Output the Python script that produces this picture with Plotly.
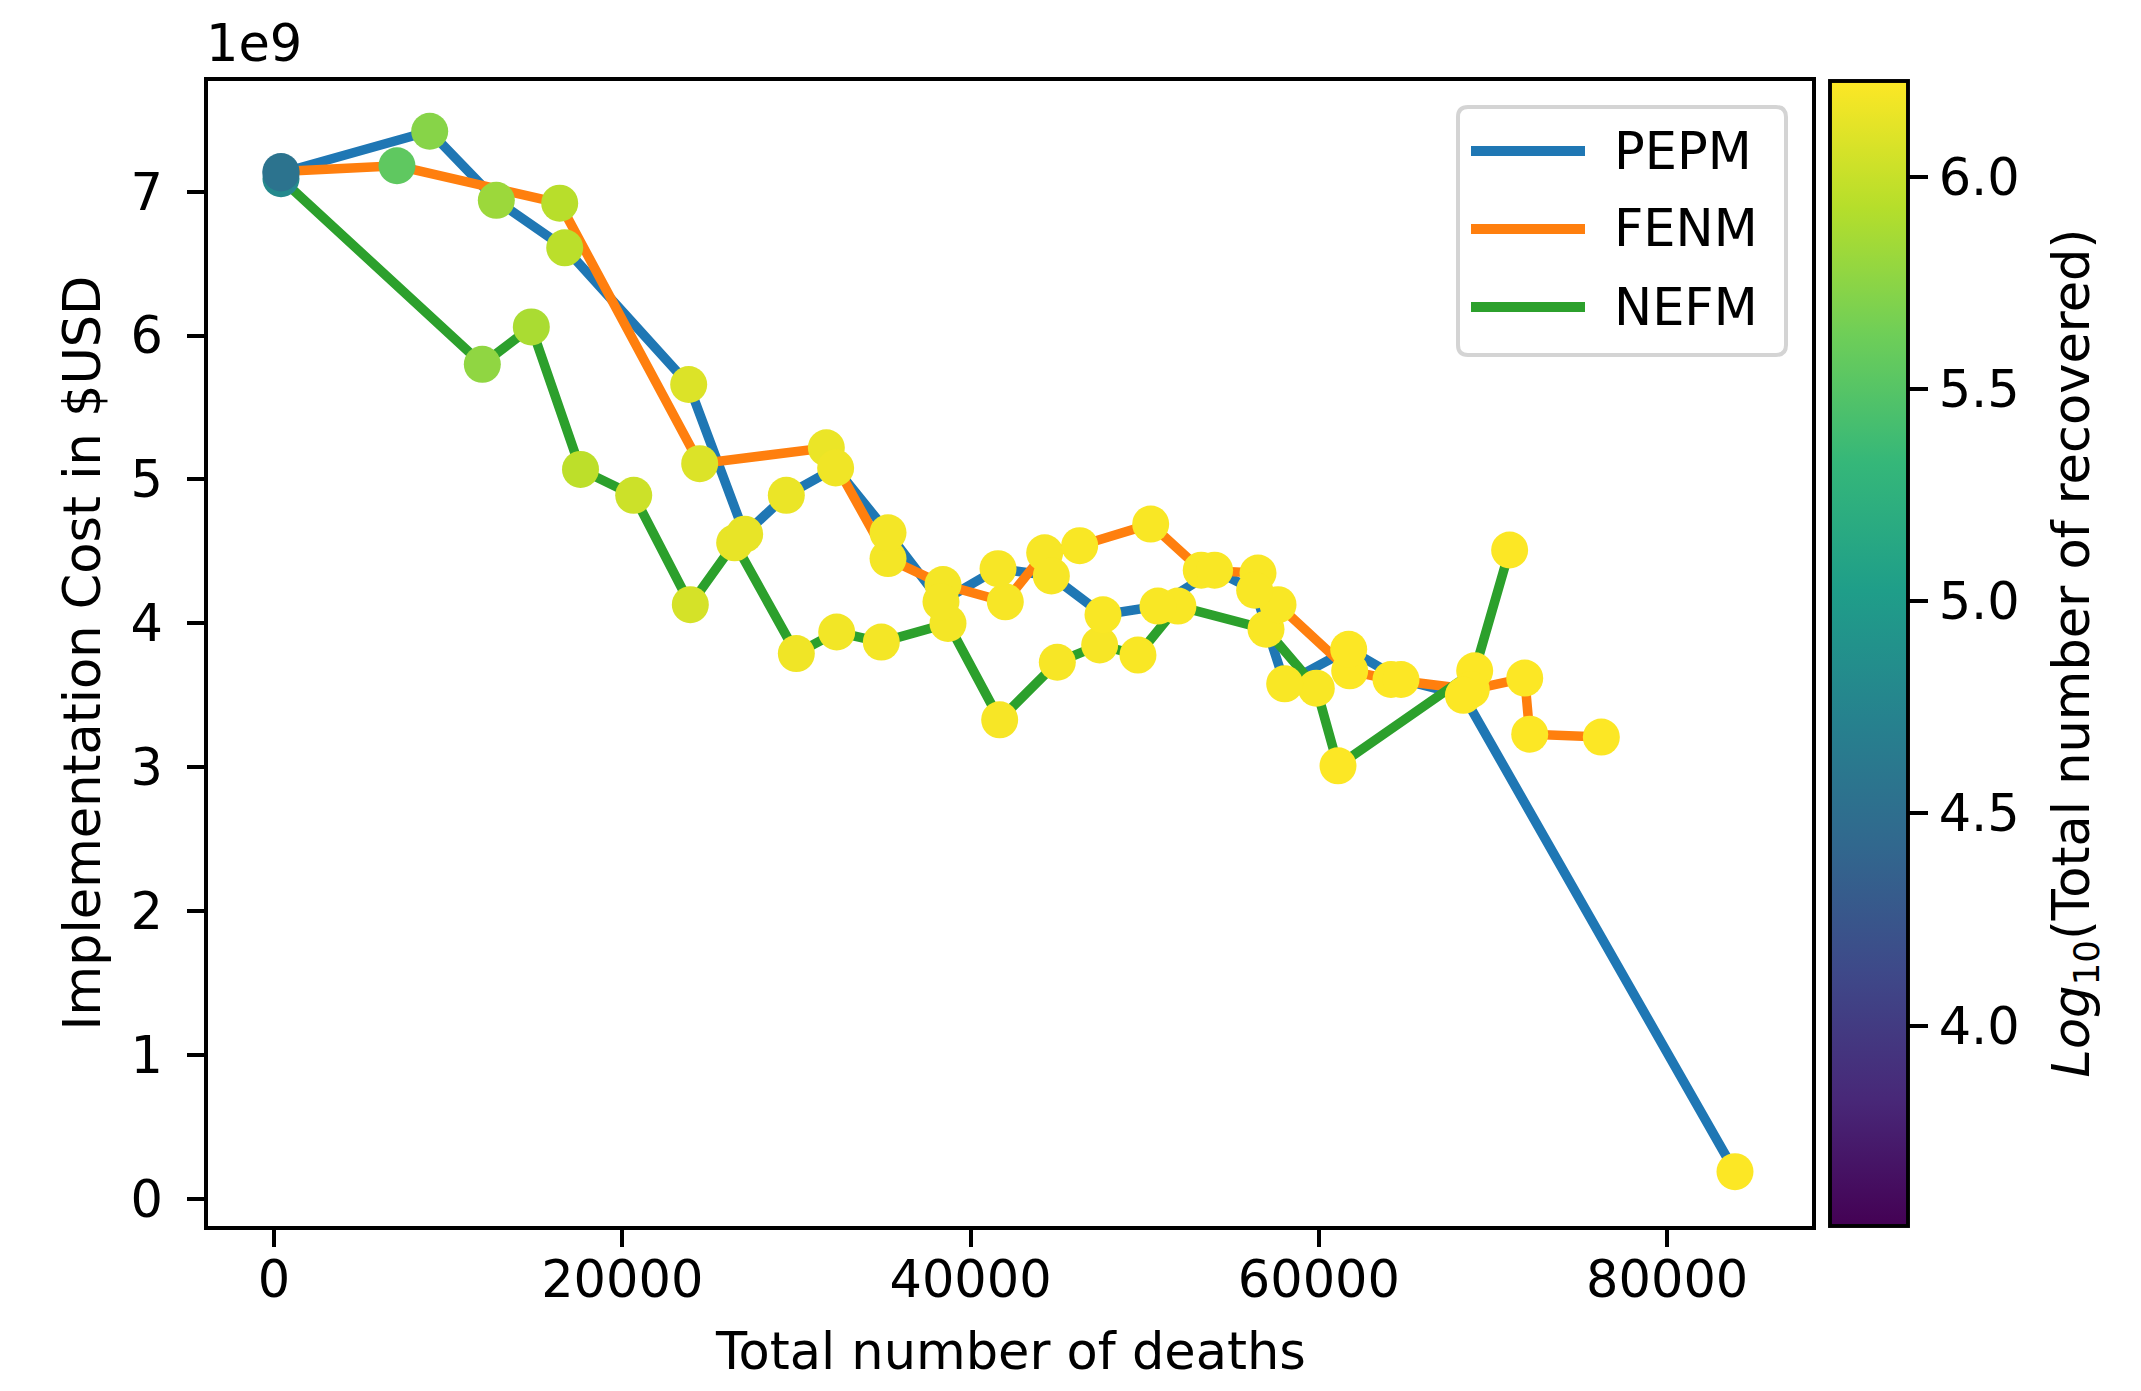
import plotly.graph_objects as go

# ---------------- data ----------------
series_names = ["PEPM", "FENM", "NEFM"]
line_colors = ["#1f77b4", "#ff7f0e", "#2ca02c"]

pepm_deaths = [400, 8940, 12766, 16693, 23812, 27026, 29418, 32250, 35258, 38300,
               41575, 44637, 47603, 50758, 54011, 56312, 58036, 61710, 64715, 68300, 83893]
pepm_cost_1e9 = [7.13, 7.42, 6.94, 6.61, 5.66, 4.62, 4.89, 5.08, 4.63, 4.15,
                 4.38, 4.33, 4.06, 4.12, 4.37, 4.23, 3.58, 3.82, 3.61, 3.50, 0.19]
pepm_log_recovered = [4.55, 5.73, 5.82, 5.95, 6.09, 6.14, 6.15, 6.17, 6.19, 6.19,
                      6.20, 6.20, 6.21, 6.21, 6.21, 6.21, 6.21, 6.22, 6.22, 6.22, 6.22]

fenm_deaths = [400, 7063, 16405, 24444, 31716, 35258, 38415, 41993, 44254, 46264,
               50340, 53245, 56504, 57652, 61768, 64140, 68750, 71819, 72106, 76218]
fenm_cost_1e9 = [7.14, 7.18, 6.92, 5.11, 5.22, 4.45, 4.27, 4.15, 4.49, 4.54,
                 4.69, 4.37, 4.35, 4.13, 3.67, 3.61, 3.54, 3.62, 3.23, 3.21]
fenm_log_recovered = [4.55, 5.55, 5.94, 6.09, 6.15, 6.19, 6.19, 6.20, 6.20, 6.21,
                      6.21, 6.21, 6.21, 6.21, 6.22, 6.22, 6.22, 6.22, 6.22, 6.22]

nefm_deaths = [400, 11962, 14775, 17600, 20655, 23906, 26452, 29993, 32312, 34874,
               38702, 41670, 44979, 47411, 49610, 51907, 56963, 59851, 61097, 68946, 70953]
nefm_cost_1e9 = [7.09, 5.80, 6.06, 5.07, 4.89, 4.13, 4.56, 3.79, 3.94, 3.87,
                 4.00, 3.33, 3.73, 3.85, 3.78, 4.12, 3.96, 3.55, 3.01, 3.67, 4.51]
nefm_log_recovered = [4.80, 5.77, 5.88, 5.96, 6.02, 6.06, 6.14, 6.17, 6.18, 6.19,
                      6.19, 6.20, 6.20, 6.20, 6.21, 6.21, 6.21, 6.21, 6.22, 6.22, 6.22]

x_tick_vals = [0, 20000, 40000, 60000, 80000]
x_tick_text = ["0", "20000", "40000", "60000", "80000"]
y_tick_vals_1e9 = [0, 1, 2, 3, 4, 5, 6, 7]
y_tick_text = ["0", "1", "2", "3", "4", "5", "6", "7"]
cbar_tick_vals = [4.0, 4.5, 5.0, 5.5, 6.0]
cbar_tick_text = ["4.0", "4.5", "5.0", "5.5", "6.0"]
cbar_min, cbar_max = 3.528, 6.226

x_title = "Total number of deaths"
y_title = "Implementation Cost in $USD"
cbar_title = "<i>Log</i><sub>10</sub>(Total number of recovered)"
y_exponent_label = "1e9"

# ---------------- geometry / style ----------------
W, H = 2141, 1391
PL, PR, PT, PB = 200, 1804, 73, 1218
FONT = "DejaVu Sans"
FS = 51
LW = 9.5
MS = 37
AXW = 3.9


def px_x(px):
    return (px - PL) / (PR - PL)


def px_y(py):
    return (PB - py) / (PB - PT)


series = [
    (pepm_deaths, pepm_cost_1e9, pepm_log_recovered),
    (fenm_deaths, fenm_cost_1e9, fenm_log_recovered),
    (nefm_deaths, nefm_cost_1e9, nefm_log_recovered),
]

fig = go.Figure()

# lines
for name, color, (xs, ys, cs) in zip(series_names, line_colors, series):
    fig.add_trace(go.Scatter(
        x=xs, y=[v * 1e9 for v in ys], mode="lines", name=name,
        line=dict(color=color, width=LW), showlegend=False, hoverinfo="skip"))

# markers (coloured by log10 recovered)
order = [2, 1, 0]
for k, i in enumerate(order):
    xs, ys, cs = series[i]
    fig.add_trace(go.Scatter(
        x=xs, y=[v * 1e9 for v in ys], mode="markers", name=series_names[i] + " points",
        showlegend=False,
        marker=dict(
            size=MS, color=cs, colorscale="Viridis", cmin=cbar_min, cmax=cbar_max,
            line=dict(width=0),
            showscale=(k == 0),
            colorbar=dict(
                thickness=78, thicknessmode="pixels",
                len=1, lenmode="fraction", y=0.5, yanchor="middle",
                x=px_x(1822), xanchor="left", xpad=0, ypad=0,
                outlinewidth=AXW, outlinecolor="black",
                tickvals=cbar_tick_vals, ticktext=cbar_tick_text, tickprefix="\u2009",
                ticks="outside", ticklen=19, tickwidth=AXW, tickcolor="black",
                tickfont=dict(family=FONT, size=FS, color="black"),
            ),
        )))

# ---------------- manual legend ----------------
lx0, lx1, ly0, ly1 = 1450, 1778, 99, 347
r = 10
rx, ry = r / (PR - PL), r / (PB - PT)
X0, X1, Y0, Y1 = px_x(lx0), px_x(lx1), px_y(ly1), px_y(ly0)
path = (f"M {X0+rx},{Y0} L {X1-rx},{Y0} Q {X1},{Y0} {X1},{Y0+ry} "
        f"L {X1},{Y1-ry} Q {X1},{Y1} {X1-rx},{Y1} L {X0+rx},{Y1} "
        f"Q {X0},{Y1} {X0},{Y1-ry} L {X0},{Y0+ry} Q {X0},{Y0} {X0+rx},{Y0} Z")
shapes = [dict(type="path", path=path, xref="paper", yref="paper",
               fillcolor="rgba(255,255,255,0.8)", line=dict(color="#d4d4d4", width=4))]
annotations = []
legend_rows = [143, 221, 299]
for name, color, row in zip(series_names, line_colors, legend_rows):
    shapes.append(dict(type="line", xref="paper", yref="paper",
                       x0=px_x(1463), x1=px_x(1577), y0=px_y(row), y1=px_y(row),
                       line=dict(color=color, width=10)))
    annotations.append(dict(text=name, xref="paper", yref="paper",
                            x=px_x(1604), y=px_y(row), xanchor="left", yanchor="middle",
                            showarrow=False, font=dict(family=FONT, size=FS, color="black")))

# titles
annotations.append(dict(text=x_title, xref="paper", yref="paper", x=0.5, y=px_y(1343),
                        xanchor="center", yanchor="middle", showarrow=False,
                        font=dict(family=FONT, size=FS, color="black")))
annotations.append(dict(text=y_title, xref="paper", yref="paper", x=px_x(74), y=0.5,
                        xanchor="center", yanchor="middle", textangle=-90, showarrow=False,
                        font=dict(family=FONT, size=FS, color="black")))
annotations.append(dict(text=cbar_title, xref="paper", yref="paper", x=px_x(2066), y=0.5,
                        xanchor="center", yanchor="middle", textangle=-90, showarrow=False,
                        font=dict(family=FONT, size=FS, color="black")))
annotations.append(dict(text=y_exponent_label, xref="paper", yref="paper", x=px_x(196),
                        y=px_y(36), xanchor="left", yanchor="middle", showarrow=False,
                        font=dict(family=FONT, size=FS, color="black")))

axis_common = dict(showline=True, mirror=True, linecolor="black", linewidth=AXW,
                   ticks="outside", ticklen=17, tickwidth=AXW, tickcolor="black",
                   showgrid=False, zeroline=False,
                   tickfont=dict(family=FONT, size=FS, color="black"))

fig.update_layout(
    width=W, height=H,
    margin=dict(l=PL, r=W - PR, t=PT, b=H - PB, autoexpand=False),
    paper_bgcolor="white", plot_bgcolor="white",
    font=dict(family=FONT, size=FS, color="black"),
    xaxis=dict(range=[-3790, 88315], tickvals=x_tick_vals, ticktext=x_tick_text,
               ticklabelstandoff=-11, **axis_common),
    yaxis=dict(range=[-0.1876e9, 7.769e9], tickvals=[v * 1e9 for v in y_tick_vals_1e9],
               ticktext=y_tick_text, ticklabelstandoff=14, **axis_common),
    shapes=shapes, annotations=annotations, showlegend=False,
)

fig.write_html("out.html")
